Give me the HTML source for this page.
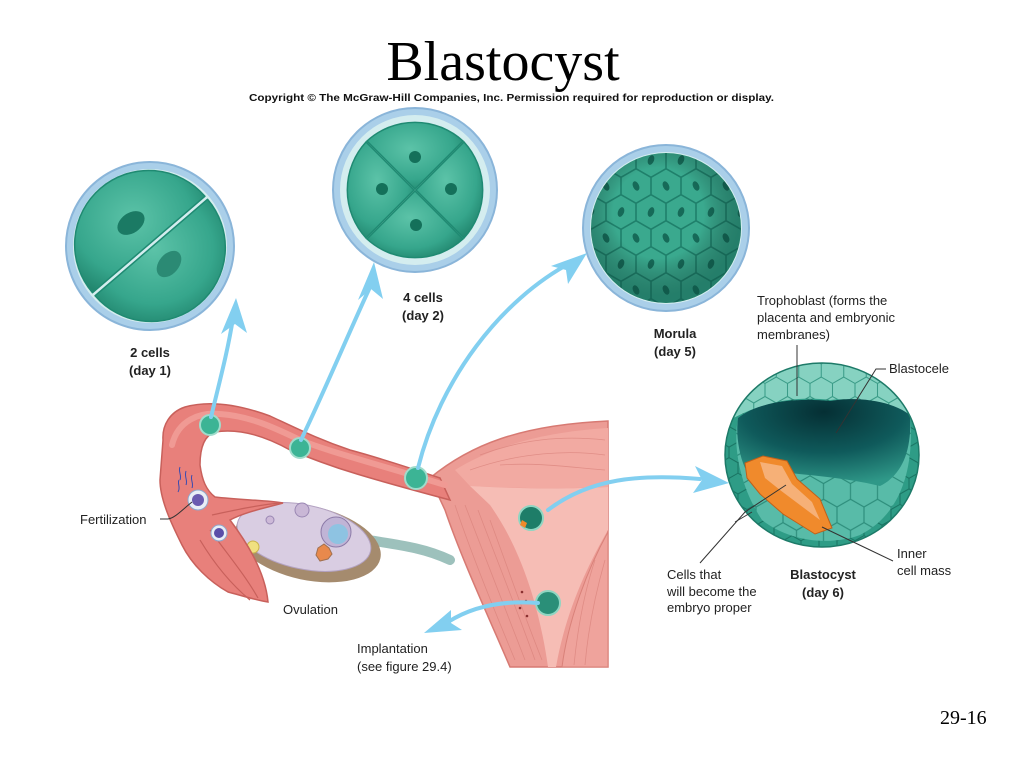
<!DOCTYPE html>
<html><head><meta charset="utf-8"><style>
html,body{margin:0;padding:0;background:#fff;}
svg{display:block;}
.s{font-family:"Liberation Sans",sans-serif;fill:#222;}
</style></head><body>
<svg width="1024" height="768" viewBox="0 0 1024 768" xmlns="http://www.w3.org/2000/svg">
<defs>
  <radialGradient id="cellg" cx="45%" cy="40%" r="65%">
    <stop offset="0" stop-color="#5cc3a8"/><stop offset="0.7" stop-color="#36a68c"/><stop offset="1" stop-color="#22876f"/>
  </radialGradient>
  <radialGradient id="shade" cx="45%" cy="40%" r="55%">
    <stop offset="0.55" stop-color="#000" stop-opacity="0"/><stop offset="1" stop-color="#0a4a3e" stop-opacity="0.45"/>
  </radialGradient>
  <radialGradient id="cav" cx="50%" cy="15%" r="85%">
    <stop offset="0" stop-color="#052f34"/><stop offset="0.55" stop-color="#0f5a5b"/><stop offset="1" stop-color="#2f9888"/>
  </radialGradient>
  <pattern id="hex" patternUnits="userSpaceOnUse" width="30" height="52" patternTransform="translate(6 4)">
    <rect width="30" height="52" fill="#3aa98e"/>
    <g fill="none" stroke="#1f806b" stroke-width="1.6">
      <path d="M15,-17.3 L30,-8.66 L30,8.66 L15,17.3 L0,8.66 L0,-8.66 Z"/>
      <path d="M15,34.7 L30,43.3 L30,60.6 L15,69.3 L0,60.6 L0,43.3 Z"/>
      <path d="M15,17.3 L15,34.7"/>
    </g>
    <ellipse cx="15" cy="0" rx="3" ry="5" fill="#166a58" transform="rotate(20 15 0)"/>
    <ellipse cx="15" cy="52" rx="3" ry="5" fill="#166a58" transform="rotate(20 15 52)"/>
    <ellipse cx="0" cy="26" rx="3" ry="5" fill="#166a58" transform="rotate(-25 0 26)"/>
    <ellipse cx="30" cy="26" rx="3" ry="5" fill="#166a58" transform="rotate(-25 30 26)"/>
  </pattern>
  <pattern id="hex2" patternUnits="userSpaceOnUse" width="30" height="52" patternTransform="scale(0.6)">
    <rect width="30" height="52" fill="#2e9c86"/>
    <g fill="none" stroke="#17705f" stroke-width="1.6">
      <path d="M15,-17.3 L30,-8.66 L30,8.66 L15,17.3 L0,8.66 L0,-8.66 Z"/>
      <path d="M15,34.7 L30,43.3 L30,60.6 L15,69.3 L0,60.6 L0,43.3 Z"/>
      <path d="M15,17.3 L15,34.7"/>
    </g>
  </pattern>
  <pattern id="hex3" patternUnits="userSpaceOnUse" width="30" height="52" patternTransform="scale(0.9)">
    <rect width="30" height="52" fill="#58bba8"/>
    <g fill="none" stroke="#2a8a78" stroke-width="1.2">
      <path d="M15,-17.3 L30,-8.66 L30,8.66 L15,17.3 L0,8.66 L0,-8.66 Z"/>
      <path d="M15,34.7 L30,43.3 L30,60.6 L15,69.3 L0,60.6 L0,43.3 Z"/>
      <path d="M15,17.3 L15,34.7"/>
    </g>
  </pattern>
  <pattern id="hex4" patternUnits="userSpaceOnUse" width="30" height="52" patternTransform="scale(0.75)">
    <rect width="30" height="52" fill="#86d2c1"/>
    <g fill="none" stroke="#3b9c88" stroke-width="1.4">
      <path d="M15,-17.3 L30,-8.66 L30,8.66 L15,17.3 L0,8.66 L0,-8.66 Z"/>
      <path d="M15,34.7 L30,43.3 L30,60.6 L15,69.3 L0,60.6 L0,43.3 Z"/>
      <path d="M15,17.3 L15,34.7"/>
    </g>
  </pattern>
  <clipPath id="cm"><circle cx="666" cy="228" r="75"/></clipPath>
  <clipPath id="cb"><ellipse cx="822" cy="455" rx="97" ry="92"/></clipPath>
</defs>

<!-- Title -->
<text x="503" y="80" text-anchor="middle" font-family="Liberation Serif, serif" font-size="56" fill="#000">Blastocyst</text>
<text x="249" y="101" font-family="Liberation Sans, sans-serif" font-weight="bold" font-size="10.5" fill="#111" textLength="525" lengthAdjust="spacingAndGlyphs">Copyright © The McGraw-Hill Companies, Inc. Permission required for reproduction or display.</text>

<!-- 2 cells -->
<circle cx="150" cy="246" r="84" fill="#aacfe9" stroke="#8ab5d9" stroke-width="2"/>
<circle cx="150" cy="246" r="77" fill="#d4edef"/>
<path d="M92.5,292.7 L204.9,196.3 A73,73 0 0 0 92.5,292.7 Z" fill="url(#cellg)" stroke="#1f8a72" stroke-width="1.5" stroke-linejoin="round"/>
<path d="M95.1,295.7 L207.5,199.3 A73,73 0 0 1 95.1,295.7 Z" fill="url(#cellg)" stroke="#1f8a72" stroke-width="1.5" stroke-linejoin="round"/>
<ellipse cx="131" cy="223" rx="15" ry="10" transform="rotate(-35 131 223)" fill="#1b7a64"/>
<ellipse cx="169" cy="264" rx="15" ry="10" transform="rotate(-50 169 264)" fill="#2b8a74"/>

<!-- 4 cells -->
<circle cx="415" cy="190" r="82" fill="#aacfe9" stroke="#8ab5d9" stroke-width="2"/>
<circle cx="415" cy="190" r="75" fill="#d4edef"/>
<g stroke="#1f8a72" stroke-width="1.5">
  <path d="M415,189 L367,141 A71,71 0 0 1 463,141 Z" fill="url(#cellg)"/>
  <path d="M416,190 L464,142 A71,71 0 0 1 464,238 Z" fill="url(#cellg)"/>
  <path d="M415,191 L463,239 A71,71 0 0 1 367,239 Z" fill="url(#cellg)"/>
  <path d="M414,190 L366,238 A71,71 0 0 1 366,142 Z" fill="url(#cellg)"/>
</g>
<circle cx="415" cy="157" r="6" fill="#14705a"/>
<circle cx="382" cy="189" r="6" fill="#14705a"/>
<circle cx="451" cy="189" r="6" fill="#14705a"/>
<circle cx="416" cy="225" r="6" fill="#14705a"/>

<!-- Morula -->
<circle cx="666" cy="228" r="83" fill="#aacfe9" stroke="#8ab5d9" stroke-width="2"/>
<circle cx="666" cy="228" r="76" fill="#d4edef"/>
<g clip-path="url(#cm)">
  <rect x="580" y="140" width="180" height="180" fill="url(#hex)"/>
  <circle cx="666" cy="228" r="75" fill="url(#shade)"/>
</g>

<!-- labels top -->
<g class="s" font-weight="bold" font-size="13" text-anchor="middle">
  <text x="150" y="357">2 cells</text><text x="150" y="375">(day 1)</text>
  <text x="423" y="302">4 cells</text><text x="423" y="320">(day 2)</text>
  <text x="675" y="338">Morula</text><text x="675" y="356">(day 5)</text>
</g>

<!-- Uterus -->
<path d="M430,478 C470,445 520,425 608,421 L608,667 L510,667 C490,620 462,560 445,510 Z" fill="#ec9c95" stroke="#d77a73" stroke-width="1.5"/>
<path d="M455,470 C490,448 540,432 608,428 L608,487 C560,489 510,488 470,486 Z" fill="#f2aaa2"/>
<path d="M470,486 C520,489 570,489 608,487 L608,530 C588,565 566,610 556,667 L548,667 C540,610 522,550 490,505 Z" fill="#f6bdb5"/>
<path d="M608,532 C588,568 568,620 562,667 L608,667 Z" fill="#efa39c" stroke="#d98179" stroke-width="1"/>
<g stroke="#d9827b" stroke-width="0.8" fill="none" opacity="0.7">
  <path d="M480,455 C520,440 560,435 605,440"/><path d="M470,470 C520,452 570,450 605,455"/>
  <path d="M500,465 C540,462 575,468 605,470"/>
  <path d="M455,505 C470,550 490,600 515,660"/><path d="M465,505 C482,550 502,600 525,660"/>
  <path d="M478,510 C495,555 515,605 535,660"/><path d="M490,520 C505,560 522,610 542,660"/>
  <path d="M595,560 C585,590 578,625 574,665"/><path d="M605,560 C595,595 588,630 585,665"/>
</g>

<!-- ligament -->
<path d="M368,540 C400,545 425,548 450,560" stroke="#9dc1bc" stroke-width="10" fill="none" stroke-linecap="round"/>

<!-- Ovary -->
<ellipse cx="308" cy="543" rx="74" ry="37" transform="rotate(12 308 543)" fill="#a58b6e"/>
<ellipse cx="304" cy="537" rx="68" ry="32" transform="rotate(12 304 537)" fill="#d9cde2" stroke="#b3a2c2" stroke-width="1"/>
<circle cx="336" cy="532" r="15" fill="#c0b4d6" stroke="#8c7aa8"/><circle cx="338" cy="534" r="10" fill="#8ec3e2"/>
<circle cx="302" cy="510" r="7" fill="#c9b7d6" stroke="#9a87b3"/>
<circle cx="270" cy="520" r="4" fill="#cdb9d8" stroke="#9a87b3"/>
<circle cx="253" cy="547" r="6" fill="#f0e080" stroke="#c9b24a"/>
<path d="M318,548 l6,-4 5,4 3,6 -4,5 -8,2 -4,-6 Z" fill="#e8894c" stroke="#a07050"/>

<!-- Fallopian tube -->
<path d="M163,440 C162,425 170,412 185,407 C210,400 240,405 270,416 C300,430 320,440 350,450 C380,458 410,468 440,478 L450,500 C420,492 390,484 357,474 C330,466 310,458 290,450 C265,436 240,428 215,432 C203,436 200,450 200,465 C202,480 206,490 215,497 C240,500 265,500 283,503 C265,508 245,512 230,520 C245,540 265,570 268,602 C255,600 240,595 228,592 C210,582 192,565 182,545 C172,525 160,500 160,480 Z" fill="#e8807b" stroke="#c8605b" stroke-width="1.5"/>
<path d="M172,445 C178,420 200,412 220,414 C250,416 275,428 300,440 C330,452 370,462 445,485" stroke="#f09a94" stroke-width="6" fill="none" stroke-linecap="round"/>
<g stroke="#c8605b" stroke-width="1.2" fill="none">
  <path d="M200,540 C215,565 232,585 250,600"/><path d="M210,530 C228,555 245,575 258,598"/>
  <path d="M212,515 C235,510 258,505 280,503"/>
</g>

<!-- fertilization -->
<circle cx="198" cy="500" r="10" fill="#e8eef6" stroke="#8fa7cc"/><circle cx="198" cy="500" r="6" fill="#6a5bb0"/>
<circle cx="219" cy="533" r="8" fill="#e8eef6" stroke="#8fa7cc"/><circle cx="219" cy="533" r="5" fill="#5a4da8"/>
<g stroke="#3a4bb0" stroke-width="1" fill="none">
  <path d="M180,480 c2,-5 -2,-8 0,-13"/><path d="M186,485 c2,-5 -2,-8 0,-14"/><path d="M192,488 c2,-5 -2,-8 0,-13"/><path d="M178,492 c3,-5 -1,-8 1,-12"/>
</g>

<!-- embryos in tube -->
<circle cx="210" cy="425" r="10" fill="#3cb495" stroke="#9fdccb" stroke-width="2"/>
<circle cx="300" cy="448" r="10" fill="#3cb495" stroke="#9fdccb" stroke-width="2"/>
<circle cx="416" cy="478" r="11" fill="#3cb495" stroke="#9fdccb" stroke-width="2"/>
<circle cx="531" cy="518" r="12" fill="#1e7d68" stroke="#8fd6c2" stroke-width="2"/>
<path d="M522,520 l5,3 -2,5 -5,-3 Z" fill="#f08a2a"/>
<circle cx="548" cy="603" r="12" fill="#2a8f78" stroke="#8fd6c2" stroke-width="2"/>
<g fill="#8a3030"><circle cx="522" cy="592" r="1.3"/><circle cx="526" cy="601" r="1.3"/><circle cx="520" cy="608" r="1.3"/><circle cx="527" cy="616" r="1.3"/></g>

<!-- arrows -->
<g fill="none" stroke="#82cff0" stroke-width="4" stroke-linecap="round">
  <path d="M211,417 C220,380 228,350 233,318"/>
  <path d="M301,440 C325,390 350,330 371,285"/>
  <path d="M418,468 C440,380 500,300 572,262"/>
  <path d="M548,510 C590,478 640,474 700,479"/>
  <path d="M538,603 C500,600 470,608 448,622"/>
</g>
<g fill="#82cff0">
  <path d="M236,298 L247,333 L235,324 L221,334 Z"/>
  <path d="M374,262 L383,299 L371,289 L358,300 Z"/>
  <path d="M587,253 L568,284 L566,270 L551,266 Z"/>
  <path d="M729,483 L693,493 L702,480 L695,466 Z"/>
  <path d="M424,633 L451,610 L451,623 L462,630 Z"/>
</g>

<!-- Blastocyst -->
<g clip-path="url(#cb)">
  <rect x="720" y="360" width="200" height="190" fill="url(#hex2)"/>
  <path d="M738,418 C760,400 800,398 830,401 C860,396 895,400 910,414 C915,470 900,515 860,535 C830,546 790,542 762,520 C742,490 732,450 738,418 Z" fill="url(#hex3)"/>
  <path d="M738,418 C760,400 800,398 830,401 C860,396 895,400 910,414 C912,448 904,474 880,486 C840,476 790,474 745,468 C738,452 736,432 738,418 Z" fill="url(#cav)"/>
  <path d="M722,425 C735,385 785,360 822,360 C868,360 905,385 920,425 C905,404 870,396 830,400 C800,396 760,400 722,425 Z" fill="url(#hex4)"/>
  <path d="M745,463 L763,456 L787,461 L797,479 L820,499 L832,528 L815,534 L783,514 L760,494 L747,478 Z" fill="#f08a2c" stroke="#c0601a" stroke-width="1"/>
  <path d="M760,462 L782,466 L792,484 L812,502 L820,520 L800,505 L780,490 L765,478 Z" fill="#f6b077"/>
</g>
<ellipse cx="822" cy="455" rx="97" ry="92" fill="none" stroke="#1d7a68" stroke-width="1.5"/>

<!-- leaders -->
<g stroke="#333" stroke-width="1" fill="none">
  <path d="M797,345 L797,396"/>
  <path d="M886,369 L876,369 L836,433"/>
  <path d="M893,561 L870,550 L822,527"/>
  <path d="M700,563 L745,512 L786,485"/>
  <path d="M735,522 L752,512"/>
  <path d="M160,519 L168,519 C175,518 182,510 192,502"/>
</g>

<!-- labels -->
<g class="s" font-size="13">
  <text x="757" y="305">Trophoblast (forms the</text>
  <text x="757" y="322">placenta and embryonic</text>
  <text x="757" y="339">membranes)</text>
  <text x="889" y="373">Blastocele</text>
  <text x="897" y="558">Inner</text>
  <text x="897" y="575">cell mass</text>
  <text x="667" y="579">Cells that</text>
  <text x="667" y="596">will become the</text>
  <text x="667" y="612">embryo proper</text>
  <text x="80" y="524">Fertilization</text>
  <text x="283" y="614">Ovulation</text>
  <text x="357" y="653">Implantation</text>
  <text x="357" y="671">(see figure 29.4)</text>
</g>
<g class="s" font-size="13" font-weight="bold" text-anchor="middle">
  <text x="823" y="579">Blastocyst</text>
  <text x="823" y="597">(day 6)</text>
</g>

<text x="940" y="724" font-family="Liberation Serif, serif" font-size="20" fill="#000">29-16</text>
</svg>
</body></html>
